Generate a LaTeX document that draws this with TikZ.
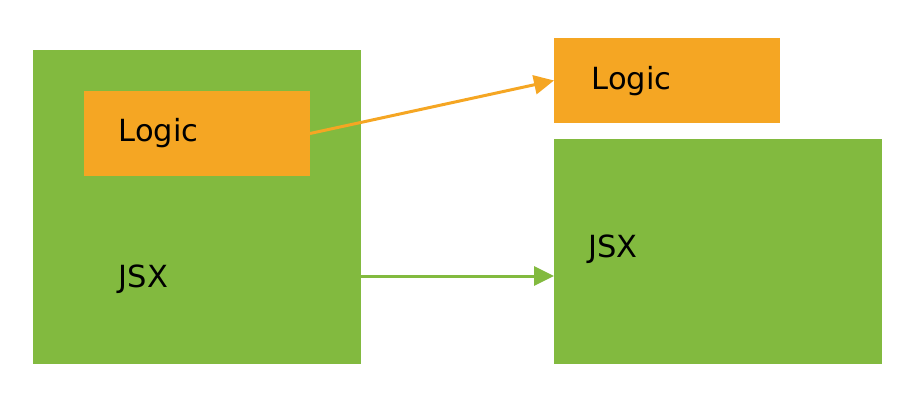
\documentclass[tikz,border=0pt]{standalone}
\usepackage{fontspec}
\setmainfont{DejaVu Sans}
\usetikzlibrary{arrows.meta}
\definecolor{grn}{HTML}{82BA3F}
\definecolor{org}{HTML}{F5A623}
\tikzset{
  box/.style={anchor=north west, inner sep=0pt, outer sep=0pt},
  gbox/.style={box, fill=grn},
  obox/.style={box, fill=org},
  lbl/.style={anchor=base west, inner sep=0pt, font=\fontsize{30.5}{33}\selectfont, text=black},
  conn/.style={line width=3pt, -{Triangle[length=20pt, width=19pt]}}
}
\begin{document}
\begin{tikzpicture}[x=1pt, y=-1pt]
\useasboundingbox (0,0) rectangle (919,404);
\node[gbox, minimum width=328pt, minimum height=314pt] (lg) at (33,50) {};
\node[obox, minimum width=226pt, minimum height=85pt] (lo) at (84,91) {};
\node[obox, minimum width=226pt, minimum height=85pt] (ro) at (554,38) {};
\node[gbox, minimum width=328pt, minimum height=225pt] (rg) at (554,139) {};
\node[lbl] (t1) at (118.5,142) {Logic};
\node[lbl] (t2) at (118.5,287) {JSX};
\node[lbl] (t3) at (591.5,89) {Logic};
\node[lbl] (t4) at (588,257) {JSX};
\draw[conn, org] (lo.east) -- (ro.west);
\draw[conn, grn] ([yshift=-69pt]lg.east) -- ([yshift=-24.5pt]rg.west);
\end{tikzpicture}
\end{document}
